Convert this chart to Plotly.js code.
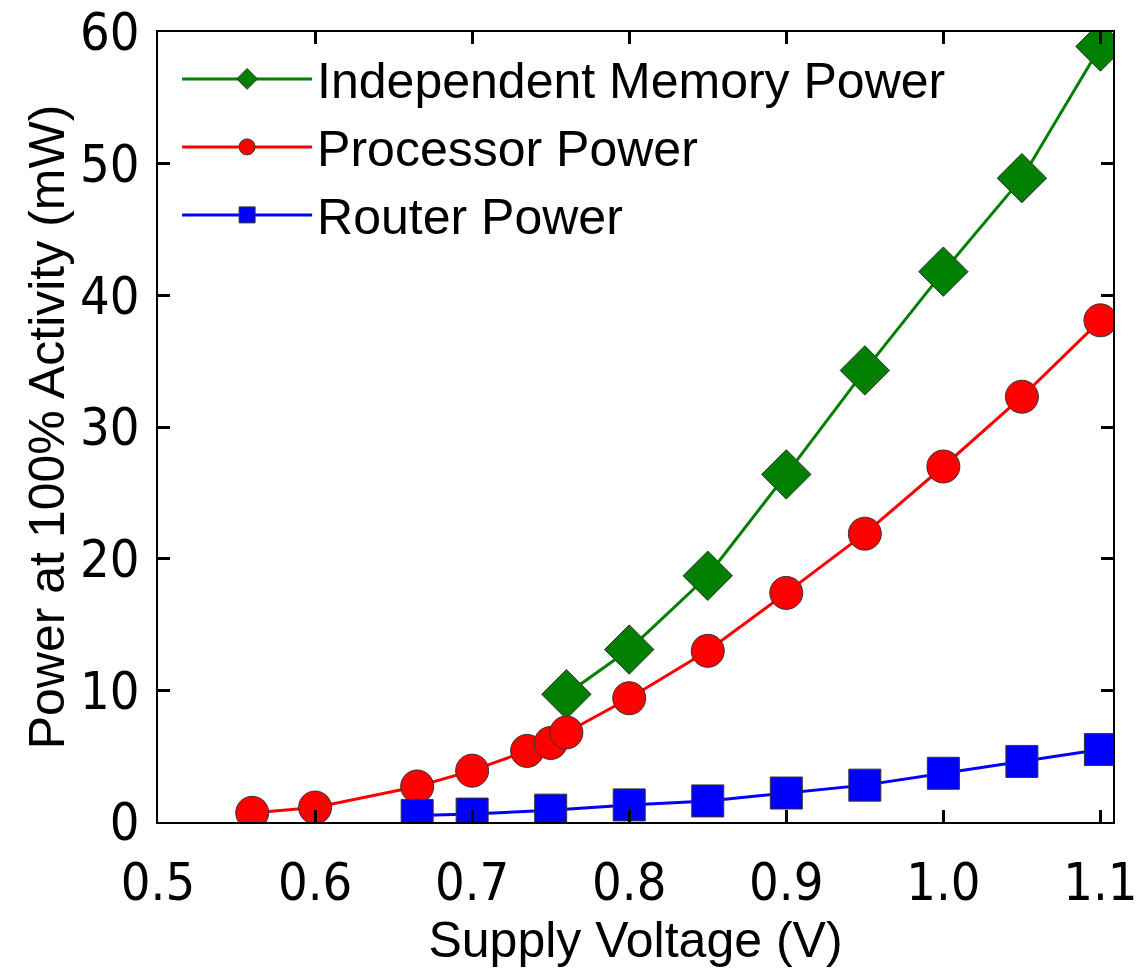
<!DOCTYPE html>
<html>
<head>
<meta charset="utf-8">
<script src="https://cdn.plot.ly/plotly-3.0.1.min.js"></script>
<style>
html,body{margin:0;padding:0;background:#fff;}
#chart{width:1145px;height:969px;}
</style>
</head>
<body>
<div id="chart"></div>
<script>
// Data
const memoryVoltage = [0.76, 0.80, 0.85, 0.90, 0.95, 1.00, 1.05, 1.10];
const memoryPower   = [9.7, 13.1, 18.7, 26.4, 34.3, 41.8, 48.9, 58.9];

const processorVoltage = [0.56, 0.60, 0.665, 0.70, 0.735, 0.75, 0.76, 0.80, 0.85, 0.90, 0.95, 1.00, 1.05, 1.10];
const processorPower   = [0.7, 1.1, 2.7, 3.9, 5.4, 6.0, 6.8, 9.4, 13.0, 17.4, 21.9, 27.0, 32.3, 38.1];

const routerVoltage = [0.665, 0.70, 0.75, 0.80, 0.85, 0.90, 0.95, 1.00, 1.05, 1.10];
const routerPower   = [0.5, 0.6, 0.9, 1.3, 1.6, 2.2, 2.8, 3.7, 4.6, 5.5];

const seriesNames = ['Independent Memory Power', 'Processor Power', 'Router Power'];
const xTitle = 'Supply Voltage (V)';
const yTitle = 'Power at 100% Activity (mW)';

const outline = {color: '#333333', width: 1};

const traces = [
  {x: memoryVoltage, y: memoryPower, name: seriesNames[0], type: 'scatter', mode: 'lines+markers',
   line: {color: '#007f00', width: 3},
   marker: {symbol: 'diamond', size: 38, color: '#007f00', line: outline}},
  {x: processorVoltage, y: processorPower, name: seriesNames[1], type: 'scatter', mode: 'lines+markers',
   line: {color: '#ff0000', width: 3},
   marker: {symbol: 'circle', size: 33, color: '#ff0000', line: outline}},
  {x: routerVoltage, y: routerPower, name: seriesNames[2], type: 'scatter', mode: 'lines+markers',
   line: {color: '#0000ff', width: 3},
   marker: {symbol: 'square', size: 32, color: '#0000ff', line: outline}}
];

const tickFont = {family: 'DejaVu Sans Condensed, DejaVu Sans, sans-serif', size: 52, color: '#000'};

const layout = {
  width: 1145, height: 969,
  margin: {l: 158, r: 32, t: 32, b: 147},
  paper_bgcolor: '#fff', plot_bgcolor: '#fff',
  showlegend: true,
  legend: {
    x: 0.02, y: 0.99, xanchor: 'left', yanchor: 'top',
    bgcolor: 'rgba(0,0,0,0)', borderwidth: 0,
    itemwidth: 130,
    font: {family: 'Liberation Sans, Arial, sans-serif', size: 50, color: '#000'}
  },
  xaxis: {
    range: [0.5, 1.108], dtick: 0.1, tick0: 0.5, tickformat: '.1f',
    showgrid: false, zeroline: false,
    showline: true, linecolor: '#000', linewidth: 2, mirror: 'ticks',
    ticks: 'inside', ticklen: 12, tickwidth: 3, tickcolor: '#000',
    tickfont: tickFont, ticklabelstandoff: 14,
    title: {text: xTitle, standoff: 10, font: {family: 'Liberation Sans, Arial, sans-serif', size: 50, color: '#000'}}
  },
  yaxis: {
    range: [0, 60], dtick: 10, tick0: 0,
    showgrid: false, zeroline: false,
    showline: true, linecolor: '#000', linewidth: 2, mirror: 'ticks',
    ticks: 'inside', ticklen: 12, tickwidth: 3, tickcolor: '#000',
    tickfont: tickFont, ticklabelstandoff: 6,
    title: {text: yTitle, standoff: 0, font: {family: 'Liberation Sans, Arial, sans-serif', size: 50, color: '#000'}}
  }
};

Plotly.newPlot('chart', traces, layout, {displayModeBar: false, staticPlot: true});
</script>
</body>
</html>
